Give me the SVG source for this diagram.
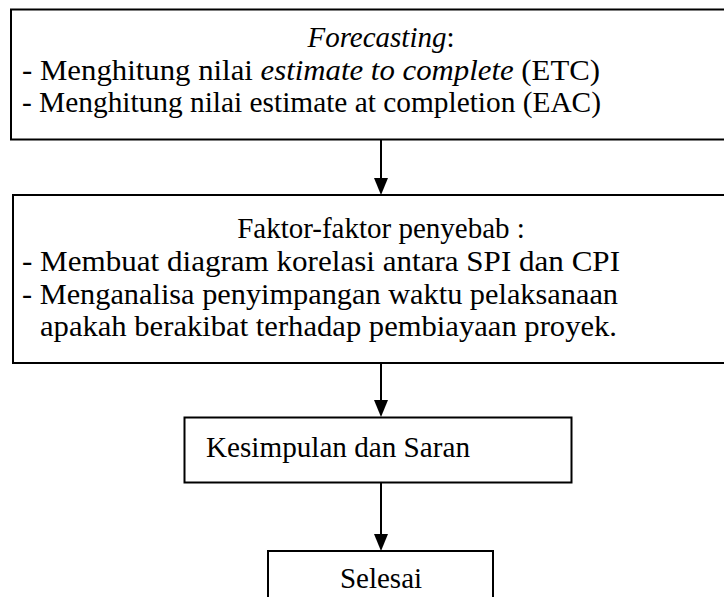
<svg xmlns="http://www.w3.org/2000/svg" width="724" height="597" viewBox="0 0 724 597">
<style>
.box{fill:#fff;stroke:#000;stroke-width:2}
.t{font-family:'Liberation Serif','Times New Roman',Tinos,'DejaVu Serif',serif;font-size:29px;fill:#000}
.c{text-anchor:middle}
.ln{stroke:#000;stroke-width:2;fill:none}
</style>
<rect width="724" height="597" fill="#fff"/>
<g id="connectors">
<line class="ln" x1="381" y1="140" x2="381" y2="178"/>
<path d="M374,178 L388,178 L381,195 Z" fill="#000"/>
<line class="ln" x1="381" y1="364" x2="381" y2="400"/>
<path d="M374,400 L388,400 L381,417 Z" fill="#000"/>
<line class="ln" x1="381" y1="483" x2="381" y2="534"/>
<path d="M374,534 L388,534 L381,551 Z" fill="#000"/>
</g>
<g id="forecasting">
<rect class="box" x="11" y="9.5" width="730" height="130"/>
<text class="t c" x="381" y="47"><tspan font-style="italic">Forecasting</tspan>:</text>
<text class="t" x="22" y="80" textLength="578" lengthAdjust="spacingAndGlyphs">- Menghitung nilai <tspan font-style="italic">estimate to complete</tspan> (ETC)</text>
<text class="t" x="22" y="112" textLength="579" lengthAdjust="spacingAndGlyphs">- Menghitung nilai estimate at completion (EAC)</text>
</g>
<g id="faktor">
<rect class="box" x="13" y="195" width="730" height="168"/>
<text class="t c" x="381" y="238">Faktor-faktor penyebab :</text>
<text class="t" x="22" y="271" textLength="598" lengthAdjust="spacingAndGlyphs">- Membuat diagram korelasi antara SPI dan CPI</text>
<text class="t" x="22" y="304" textLength="596" lengthAdjust="spacingAndGlyphs">- Menganalisa penyimpangan waktu pelaksanaan</text>
<text class="t" x="40" y="336" textLength="577" lengthAdjust="spacingAndGlyphs">apakah berakibat terhadap pembiayaan proyek.</text>
</g>
<g id="kesimpulan">
<rect class="box" x="184.5" y="417.5" width="387" height="65"/>
<text class="t" x="206" y="457" textLength="264" lengthAdjust="spacingAndGlyphs">Kesimpulan dan Saran</text>
</g>
<g id="selesai">
<rect class="box" x="268" y="551" width="225" height="60"/>
<text class="t c" x="381" y="588">Selesai</text>
</g>
</svg>
